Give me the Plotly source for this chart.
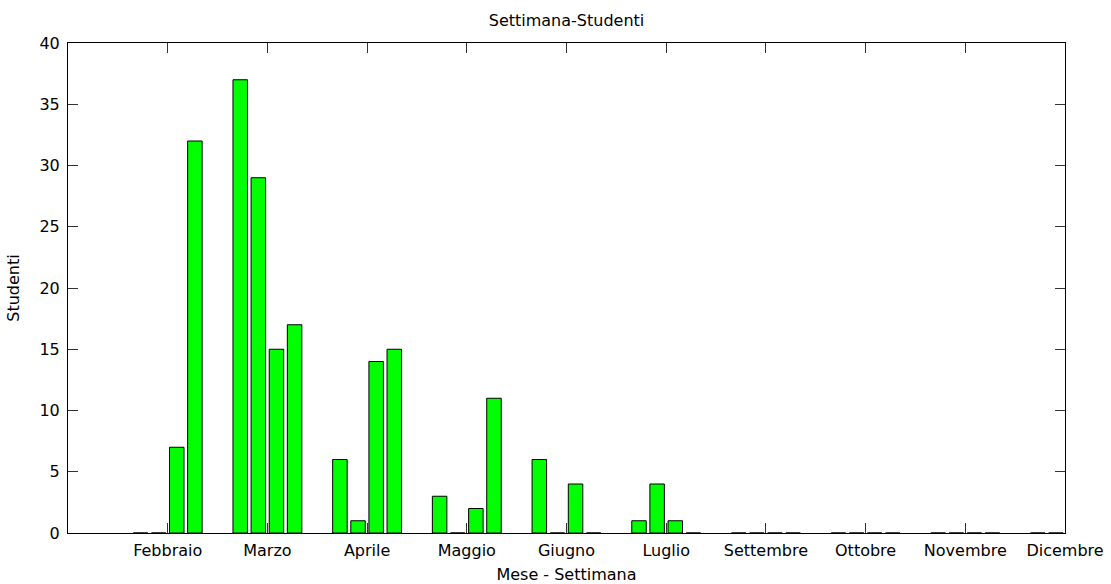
import plotly.graph_objects as go

months = ["Febbraio", "Marzo", "Aprile", "Maggio", "Giugno", "Luglio",
          "Settembre", "Ottobre", "Novembre", "Dicembre"]
month_pos = list(range(1, len(months) + 1))

week1 = [0, 37, 6, 3, 6, 1, 0, 0, 0, 0]
week2 = [0, 29, 1, 0, 0, 4, 0, 0, 0, 0]
week3 = [7, 15, 14, 2, 4, 1, 0, 0, 0, 0]
week4 = [32, 17, 15, 11, 0, 0, 0, 0, 0, 0]
weeks = [week1, week2, week3, week4]
week_names = ["Settimana 1", "Settimana 2", "Settimana 3", "Settimana 4"]

y_ticks = [0, 5, 10, 15, 20, 25, 30, 35, 40]

FONT = "DejaVu Sans"

fig = go.Figure()
for name, vals in zip(week_names, weeks):
    fig.add_trace(go.Bar(
        x=month_pos, y=vals, name=name,
        marker=dict(color="#00FF00", line=dict(color="black", width=1)),
    ))

fig.update_layout(
    width=1111, height=584,
    barmode="group", bargap=0.273, bargroupgap=0.2,
    showlegend=False,
    plot_bgcolor="white", paper_bgcolor="white",
    margin=dict(l=68, r=46, t=43, b=51),
    font=dict(family=FONT, size=16, color="black"),
    title=dict(text="Settimana-Studenti", x=0.5, xref="paper", xanchor="center",
               y=1 - 20 / 584, yanchor="middle", font=dict(family=FONT, size=16)),
)
fig.update_xaxes(
    range=[0, 10], tickmode="array", tickvals=month_pos, ticktext=months,
    ticks="inside", ticklen=10, tickcolor="#333333", tickwidth=1,
    showline=True, linecolor="black", linewidth=1, mirror="ticks",
    showgrid=False, zeroline=False, ticklabelstandoff=3, automargin=False,
    tickfont=dict(family=FONT, size=16),
    title=dict(text="Mese - Settimana", font=dict(family=FONT, size=16)),
)
fig.update_yaxes(
    range=[0, 40], tickmode="array", tickvals=y_ticks,
    ticks="inside", ticklen=10, tickcolor="#333333", tickwidth=1,
    showline=True, linecolor="black", linewidth=1, mirror="ticks",
    showgrid=False, zeroline=False, ticklabelstandoff=4, automargin=False,
    tickfont=dict(family=FONT, size=16),
    title=dict(text="Studenti", font=dict(family=FONT, size=16)),
)

fig.write_html("out.html", config={"displayModeBar": False},
               post_script="document.body.style.margin='0';")
